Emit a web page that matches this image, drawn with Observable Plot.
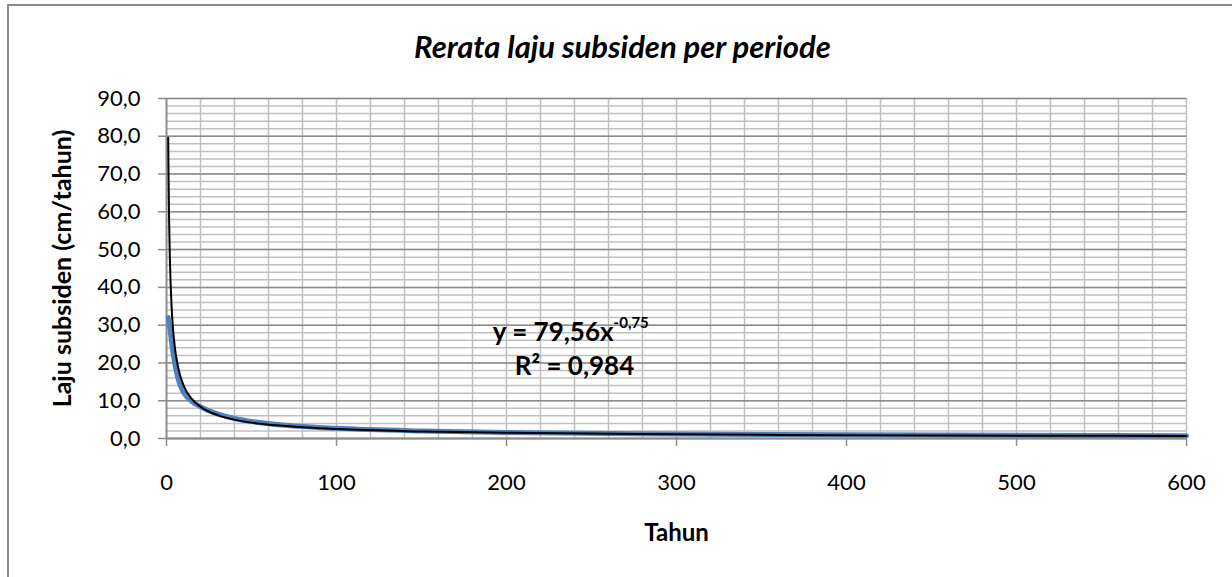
<!DOCTYPE html>
<html>
<head>
<meta charset="utf-8">
<script src="https://cdn.jsdelivr.net/npm/d3@7"></script>
<script src="https://cdn.jsdelivr.net/npm/@observablehq/plot@0.6"></script>
<style>
  html, body { margin: 0; padding: 0; background: #fff; }
  #wrap { position: relative; width: 1232px; height: 577px; overflow: hidden; }
  #border { position: absolute; left: 7px; top: 4px; width: 1400px; height: 800px; border: 2px solid #8c8c8c; }
  #chart { position: absolute; left: 0; top: 0; }
</style>
</head>
<body>
<div id="wrap"><div id="border"></div><div id="chart"></div></div>
<script>
const title = "Rerata laju subsiden per periode";
const xLabel = "Tahun";
const yLabel = "Laju subsiden (cm/tahun)";
const xTicks = [0, 100, 200, 300, 400, 500, 600];
const yTicks = [0, 10, 20, 30, 40, 50, 60, 70, 80, 90];

const obsYear = [1, 2, 3, 4, 5, 7, 10, 15, 20, 30, 40, 50, 70, 100, 150, 200, 300, 400, 500, 600];
const obsRate = [32.0, 29.0, 25.5, 22.0, 19.5, 15.5, 12.2, 9.8, 8.4, 6.5, 5.3, 4.5, 3.5, 2.7, 2.0, 1.6, 1.2, 1.0, 0.85, 0.75];

// power trendline (black)
const trendYear = [1, 1.2, 1.5, 2, 3, 4, 5, 7, 10, 15, 20, 30, 40, 50, 70, 100, 150, 200, 300, 400, 500, 600];
const trendRate = [79.6, 69.4, 58.7, 47.3, 34.9, 28.1, 23.8, 18.5, 14.1, 10.4, 8.4, 6.2, 5.0, 4.2, 3.3, 2.5, 1.86, 1.5, 1.1, 0.89, 0.75, 0.66];

const eqMain = "y = 79,56x";
const eqExp = "-0,75";
const eqR2 = "R² = 0,984";

const obs = obsYear.map((x, i) => ({x, y: obsRate[i]}));
const trend = trendYear.map((x, i) => ({x, y: trendRate[i]}));
const minorY = d3.range(0, 91, 2);
const vGrid = d3.range(20, 601, 20);

const font = "Lato, 'Open Sans', sans-serif";
const fmt = d => d.toFixed(1).replace(".", ",");

const chart = Plot.plot({
  width: 1232,
  height: 577,
  marginLeft: 166,
  marginRight: 46,
  marginTop: 98,
  marginBottom: 139,
  style: { fontFamily: font, background: "transparent", overflow: "visible" },
  x: { domain: [0, 600] },
  y: { domain: [0, 90] },
  marks: [
    Plot.ruleY(minorY, { stroke: "#bfbfbf", strokeWidth: 1.5 }),
    Plot.ruleX(vGrid, { stroke: "#bfbfbf", strokeWidth: 1.5 }),
    Plot.ruleY(yTicks, { stroke: "#8c8c8c", strokeWidth: 1.5 }),
    Plot.ruleX([0], { stroke: "#8c8c8c", strokeWidth: 2 }),
    Plot.ruleY([0], { stroke: "#8c8c8c", strokeWidth: 2 }),
    Plot.axisY({ ticks: yTicks, tickFormat: fmt, tickSize: 8, tickPadding: 18, stroke: "#8c8c8c", strokeWidth: 1.5, fontSize: 22, fill: "#000", label: null }),
    Plot.axisX({ ticks: xTicks, tickFormat: d => String(d), tickSize: 8, tickPadding: 28, stroke: "#8c8c8c", strokeWidth: 1.5, fontSize: 22, fill: "#000", label: null }),
    Plot.line(obs, { x: "x", y: "y", stroke: "#4f81bd", strokeWidth: 5, curve: "monotone-x" }),
    Plot.line(trend, { x: "x", y: "y", stroke: "#000", strokeWidth: 2, curve: "monotone-x" }),
    Plot.text([eqMain], { x: 263, y: 28, text: d => d, textAnchor: "end", fontSize: 26, fontWeight: "bold", fill: "#000" }),
    Plot.text([eqExp], { x: 263, y: 28, text: d => d, textAnchor: "start", fontSize: 15, fontWeight: "bold", dy: -10, fill: "#000" }),
    Plot.text([eqR2], { x: 240, y: 18.9, text: d => d, textAnchor: "middle", fontSize: 26, fontWeight: "bold", fill: "#000" }),
    Plot.text([title], { frameAnchor: "top", textAnchor: "middle", lineAnchor: "middle", dx: -54, dy: -50, text: d => d, fontSize: 31, fontWeight: "bold", fontStyle: "italic", fill: "#000" }),
    Plot.text([xLabel], { frameAnchor: "bottom", textAnchor: "middle", lineAnchor: "middle", dy: 95, text: d => d, fontSize: 24, fontWeight: "bold", fill: "#000" }),
    Plot.text([yLabel], { frameAnchor: "left", textAnchor: "middle", lineAnchor: "middle", dx: -104, rotate: -90, text: d => d, fontSize: 25, fontWeight: "bold", fill: "#000" })
  ]
});
document.getElementById("chart").appendChild(chart);
</script>
</body>
</html>
